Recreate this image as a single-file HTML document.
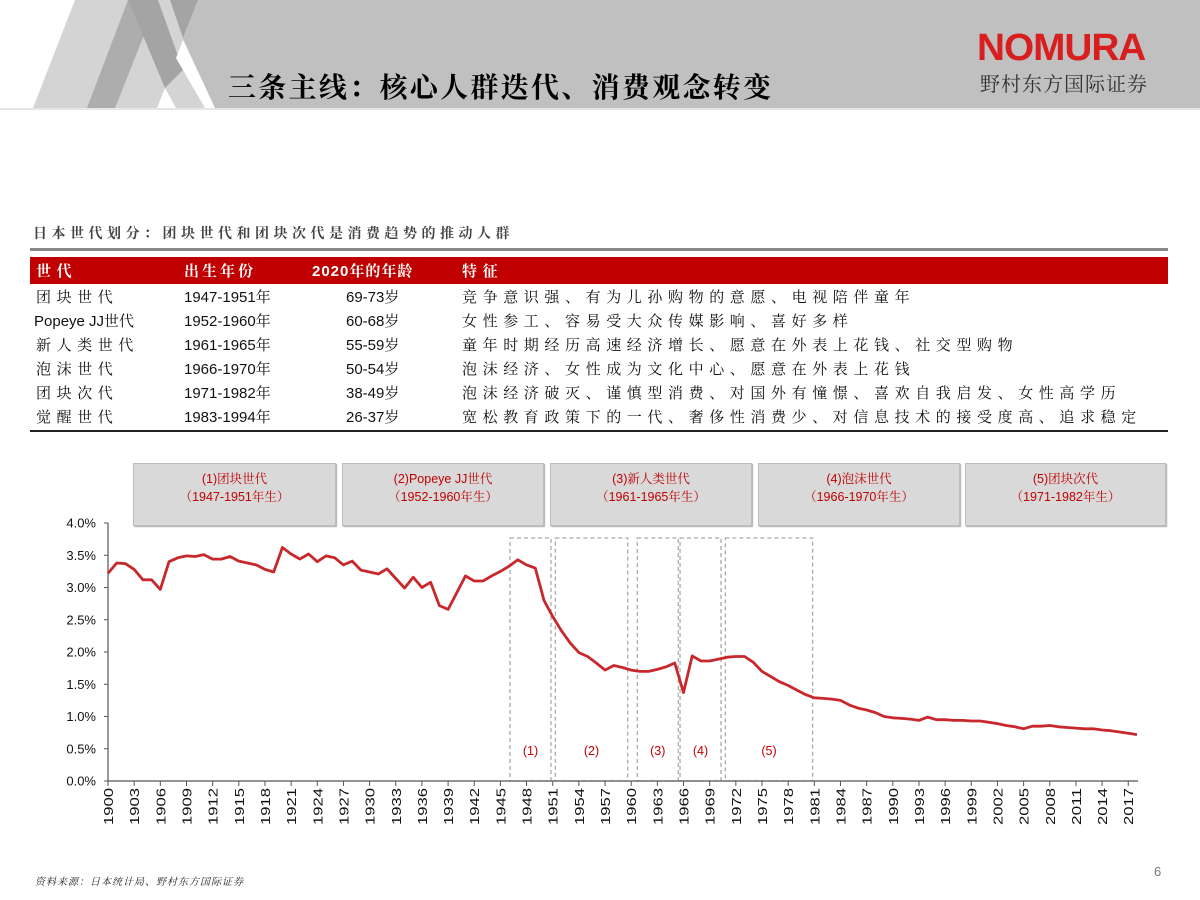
<!DOCTYPE html>
<html><head><meta charset="utf-8"><style>
body{margin:0;width:1200px;height:900px;background:#fff;position:relative;overflow:hidden;font-family:"Liberation Sans","Noto Serif CJK SC","Noto Sans CJK SC",serif;}
.abs{position:absolute;}
table{border-collapse:collapse;}
td{padding:0;height:24px;font-size:15px;color:#111;white-space:nowrap;}
td.c{letter-spacing:5.6px;}
.gbox{position:absolute;top:463px;height:63px;background:#d9d9d9;border:1px solid #bdbdbd;box-shadow:1px 1px 1px #aaa;color:#c00000;font-size:12.5px;text-align:center;line-height:18px;padding-top:6px;box-sizing:border-box;}
</style></head><body>
<svg class="abs" style="left:0;top:0" width="1200" height="112">
<polygon points="215,0 1200,0 1200,108 215,108" fill="#c0c0c0"/>
<polygon points="33,108 75,0 215,0 215,108" fill="#d4d4d4"/>
<polygon points="87,108 128,0 158,0 115,108" fill="#adadad"/>
<polygon points="128,0 158,0 183,70 165,88" fill="#a4a4a4"/>
<polygon points="170,0 198,0 183,38" fill="#a4a4a4"/>
<polygon points="183,40 215,108 205,108 176,58" fill="#fff"/>
<polygon points="157,108 165,88 176,108" fill="#fff"/>
<polygon points="198,0 215,0 215,108 183,38" fill="#c0c0c0"/>
<line x1="0" y1="109" x2="1200" y2="109" stroke="#e6e6e6" stroke-width="2"/>
</svg>
<div class="abs" style="left:228px;top:66px;font-size:28px;font-weight:bold;font-family:'Noto Serif CJK SC',serif;color:#000;letter-spacing:2.3px">三条主线：核心人群迭代、消费观念转变</div>
<div class="abs" style="left:977px;top:27px;font-size:38px;font-weight:bold;color:#d81e1e;letter-spacing:-1px;transform:scaleX(1.02);transform-origin:left">NOMURA</div>
<div class="abs" style="left:980px;top:68px;font-size:20px;color:#333;letter-spacing:1px;font-family:'Noto Serif CJK SC',serif">野村东方国际证券</div>

<div class="abs" style="left:33px;top:223px;font-size:14px;font-weight:bold;color:#444;letter-spacing:4.5px;font-family:'Noto Serif CJK SC',serif">日本世代划分：团块世代和团块次代是消费趋势的推动人群</div>
<div class="abs" style="left:30px;top:248px;width:1138px;height:3px;background:#888"></div>
<table class="abs" style="left:30px;top:257px;width:1138px">
<tr style="background:#c00000;color:#fff"><td class="c" style="height:27px;color:#fff;font-weight:bold;padding-left:6px;width:148px">世代</td><td class="c" style="color:#fff;font-weight:bold;width:128px;letter-spacing:3px">出生年份</td><td style="color:#fff;font-weight:bold;width:150px;letter-spacing:1px">2020年的年龄</td><td class="c" style="color:#fff;font-weight:bold">特征</td></tr>
<tr><td class="c" style="padding-left:6px">团块世代</td><td>1947-1951年</td><td style="padding-left:34px">69-73岁</td><td class="c">竞争意识强、有为儿孙购物的意愿、电视陪伴童年</td></tr>
<tr><td style="padding-left:4px">Popeye JJ世代</td><td>1952-1960年</td><td style="padding-left:34px">60-68岁</td><td class="c">女性参工、容易受大众传媒影响、喜好多样</td></tr>
<tr><td class="c" style="padding-left:6px">新人类世代</td><td>1961-1965年</td><td style="padding-left:34px">55-59岁</td><td class="c">童年时期经历高速经济增长、愿意在外表上花钱、社交型购物</td></tr>
<tr><td class="c" style="padding-left:6px">泡沫世代</td><td>1966-1970年</td><td style="padding-left:34px">50-54岁</td><td class="c">泡沫经济、女性成为文化中心、愿意在外表上花钱</td></tr>
<tr><td class="c" style="padding-left:6px">团块次代</td><td>1971-1982年</td><td style="padding-left:34px">38-49岁</td><td class="c">泡沫经济破灭、谨慎型消费、对国外有憧憬、喜欢自我启发、女性高学历</td></tr>
<tr><td class="c" style="padding-left:6px">觉醒世代</td><td>1983-1994年</td><td style="padding-left:34px">26-37岁</td><td class="c">宽松教育政策下的一代、奢侈性消费少、对信息技术的接受度高、追求稳定</td></tr>
</table>
<div class="abs" style="left:30px;top:430px;width:1138px;height:2px;background:#222"></div>

<div class="gbox" style="left:133px;width:203px">(1)团块世代<br>（1947-1951年生）</div>
<div class="gbox" style="left:342px;width:202px">(2)Popeye JJ世代<br>（1952-1960年生）</div>
<div class="gbox" style="left:550px;width:202px">(3)新人类世代<br>（1961-1965年生）</div>
<div class="gbox" style="left:758px;width:202px">(4)泡沫世代<br>（1966-1970年生）</div>
<div class="gbox" style="left:965px;width:201px">(5)团块次代<br>（1971-1982年生）</div>

<svg id="chart" class="abs" style="left:0;top:0" width="1200" height="900"></svg>

<div class="abs" style="left:35px;top:873px;font-size:10px;font-style:italic;color:#222;letter-spacing:1px">资料来源：日本统计局、野村东方国际证券</div>
<div class="abs" style="left:1154px;top:864px;font-size:13px;color:#777">6</div>

<script>
const startYear = 1900;
const rates = [3.22,3.38,3.37,3.28,3.12,3.12,2.97,3.40,3.46,3.49,3.48,3.51,3.44,3.44,3.48,3.41,3.38,3.35,3.28,3.24,3.62,3.52,3.44,3.52,3.40,3.49,3.46,3.35,3.41,3.27,3.24,3.21,3.29,3.14,2.99,3.16,3.00,3.08,2.72,2.66,2.92,3.18,3.10,3.10,3.18,3.25,3.33,3.43,3.35,3.30,2.80,2.55,2.33,2.14,1.99,1.93,1.83,1.72,1.79,1.76,1.72,1.70,1.70,1.73,1.77,1.83,1.37,1.94,1.86,1.86,1.89,1.92,1.93,1.93,1.84,1.70,1.62,1.54,1.48,1.41,1.34,1.29,1.28,1.27,1.25,1.18,1.13,1.10,1.06,1.00,0.98,0.97,0.96,0.94,0.99,0.95,0.95,0.94,0.94,0.93,0.93,0.91,0.89,0.86,0.84,0.81,0.85,0.85,0.86,0.84,0.83,0.82,0.81,0.81,0.79,0.78,0.76,0.74,0.72];
const yTicks = [0,0.5,1.0,1.5,2.0,2.5,3.0,3.5,4.0];
const xTickYears = [1900,1903,1906,1909,1912,1915,1918,1921,1924,1927,1930,1933,1936,1939,1942,1945,1948,1951,1954,1957,1960,1963,1966,1969,1972,1975,1978,1981,1984,1987,1990,1993,1996,1999,2002,2005,2008,2011,2014,2017];
const periodStart = [1946.1,1951.3,1960.7,1965.6,1970.8];
const periodEnd = [1950.8,1959.6,1965.4,1970.3,1980.8];
const periodLabels = ['(1)','(2)','(3)','(4)','(5)'];

const NS='http://www.w3.org/2000/svg';
const svg=document.getElementById('chart');
const X=yr=>108+(yr-1900)*8.72;
const Y=v=>781-v*64.5;
function mk(tag,attrs){const e=document.createElementNS(NS,tag);for(const k in attrs)e.setAttribute(k,attrs[k]);svg.appendChild(e);return e;}

periodStart.forEach((s,i)=>{
  const r=mk('rect',{x:X(s),y:538,width:X(periodEnd[i])-X(s),height:781-538,fill:'none',stroke:'#aaa','stroke-width':1.3,'stroke-dasharray':'4,3'});
  
  
  const t=mk('text',{x:(X(s)+X(periodEnd[i]))/2,y:755,'text-anchor':'middle','font-size':12.5,fill:'#c00000','font-family':'Liberation Sans'});
  t.textContent=periodLabels[i];
  
  
});

const ax=mk('line',{x1:108,y1:523,x2:108,y2:781,stroke:'#555','stroke-width':1.2});


const xa=mk('line',{x1:108,y1:781,x2:1138,y2:781,stroke:'#555','stroke-width':1.2});



yTicks.forEach(v=>{
  mk('line',{x1:104,y1:Y(v),x2:108,y2:Y(v),stroke:'#555'});
  const t=mk('text',{x:96,y:Y(v)+4.5,'text-anchor':'end','font-size':13,fill:'#111','font-family':'Liberation Sans'});
  t.textContent=v.toFixed(1)+'%';
  
  
});
xTickYears.forEach(yr=>{
  mk('line',{x1:X(yr),y1:781,x2:X(yr),y2:786,stroke:'#555'});
  const t=mk('text',{x:0,y:0,'text-anchor':'end','font-size':13,fill:'#111','font-family':'Liberation Sans',textLength:37,lengthAdjust:'spacingAndGlyphs',transform:`translate(${X(yr)+5},788) rotate(-90)`});
  t.textContent=yr;
  
  
});

const pts=rates.map((v,i)=>X(startYear+i).toFixed(1)+','+Y(v).toFixed(1)).join(' ');
const line=mk('polyline',{points:pts,fill:'none',stroke:'#c8282c','stroke-width':2.8,'stroke-linejoin':'round'});


</script>
</body></html>
